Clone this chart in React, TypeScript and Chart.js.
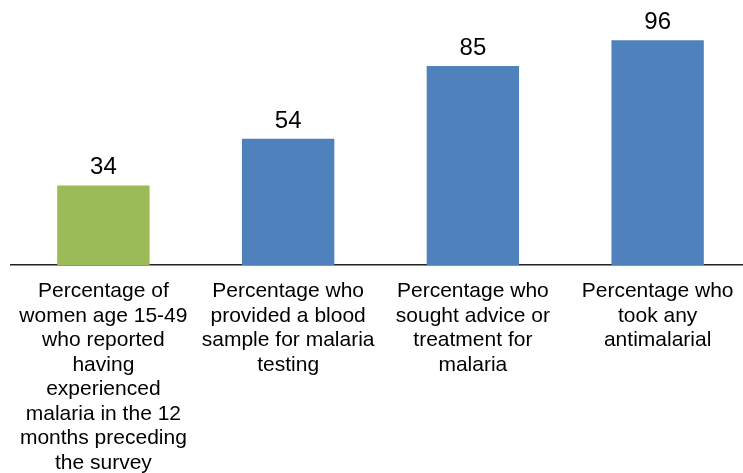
import React, { useEffect, useRef } from "react";
import { Chart, registerables } from "chart.js";

Chart.register(...registerables);

const categories: string[][] = [
  ["Percentage of", "women age 15-49", "who reported", "having", "experienced", "malaria in the 12", "months preceding", "the survey"],
  ["Percentage who", "provided a blood", "sample for malaria", "testing"],
  ["Percentage who", "sought advice or", "treatment for", "malaria"],
  ["Percentage who", "took any", "antimalarial"],
];
const values: number[] = [34, 54, 85, 96];
const barColors: string[] = ["#9BBB59", "#4F81BD", "#4F81BD", "#4F81BD"];

const FONT = '"Liberation Sans", Arial, sans-serif';

const valueLabels = {
  id: "valueLabels",
  afterDatasetsDraw(chart: any) {
    const ctx = chart.ctx;
    const meta = chart.getDatasetMeta(0);
    ctx.save();
    ctx.font = `24px ${FONT}`;
    ctx.fillStyle = "#000000";
    ctx.textAlign = "center";
    ctx.textBaseline = "alphabetic";
    meta.data.forEach((bar: any, i: number) => {
      ctx.fillText(String(values[i]), bar.x, bar.y - 11);
    });
    ctx.restore();
  },
};

export default function App() {
  const ref = useRef<HTMLCanvasElement | null>(null);
  useEffect(() => {
    if (!ref.current) return;
    const chart = new Chart(ref.current, {
      type: "bar",
      data: {
        labels: categories,
        datasets: [
          {
            data: values,
            backgroundColor: barColors,
            borderWidth: 0,
            barPercentage: 0.5,
            categoryPercentage: 1,
          },
        ],
      },
      options: {
        animation: false,
        responsive: true,
        maintainAspectRatio: false,
        layout: { padding: { top: 31, left: 11, right: 10, bottom: 0 } },
        plugins: { legend: { display: false }, tooltip: { enabled: false } },
        scales: {
          y: { display: false, min: 0, max: 100 },
          x: {
            offset: true,
            grid: { display: false, drawTicks: false },
            border: { display: true, color: "#222222", width: 1.5 },
            ticks: {
              autoSkip: false,
              maxRotation: 0,
              minRotation: 0,
              padding: 14,
              color: "#000000",
              font: { family: FONT, size: 21, lineHeight: "24.5px" as any },
            },
            afterFit: (scale: any) => {
              scale.height = 208;
            },
          },
        },
      },
      plugins: [valueLabels],
    });
    return () => chart.destroy();
  }, []);
  return (
    <div style={{ position: "fixed", left: 0, top: 0, width: 760, height: 473, background: "#fff" }}>
      <canvas ref={ref} />
    </div>
  );
}
